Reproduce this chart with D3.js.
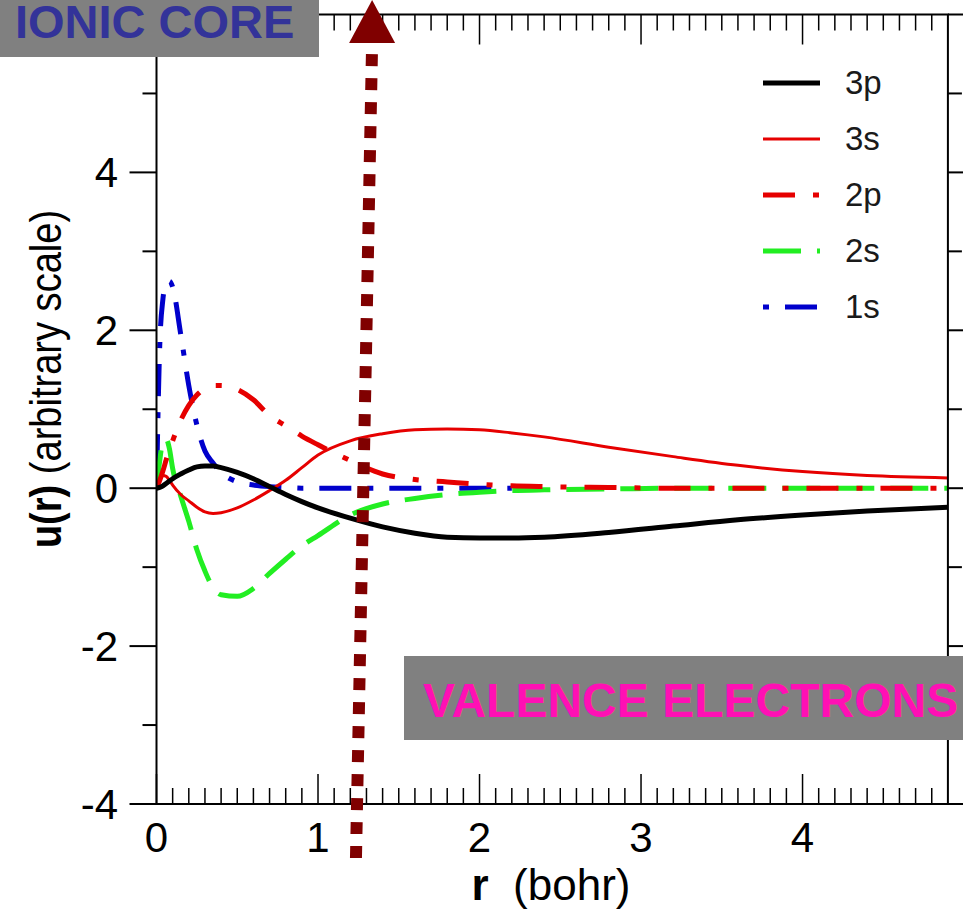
<!DOCTYPE html>
<html><head><meta charset="utf-8">
<script src="https://cdn.jsdelivr.net/npm/d3@7"></script>
<style>
html,body{margin:0;padding:0;background:#fff;}
svg{display:block;font-family:"Liberation Sans",Arial,Helvetica,sans-serif;}
</style></head>
<body>
<svg id="chart" width="963" height="909"></svg>
<script>
// ---- data ----
const rGrid = [0,0.02,0.04,0.06,0.08,0.1,0.15,0.2,0.25,0.3,0.35,0.4,0.5,0.6,0.7,0.8,0.9,1.0,1.2,1.4,1.6,1.8,2.0,2.2,2.4,2.8,3.2,3.6,4.0,4.4,4.9];
const u3p = [0,0.01,0.03,0.06,0.09,0.12,0.18,0.23,0.27,0.28,0.28,0.26,0.2,0.12,0.02,-0.08,-0.17,-0.25,-0.38,-0.49,-0.57,-0.62,-0.63,-0.63,-0.62,-0.56,-0.48,-0.4,-0.34,-0.29,-0.24];
const u3s = [0,0.1,0.16,0.15,0.1,0.04,-0.08,-0.16,-0.24,-0.3,-0.32,-0.31,-0.25,-0.15,-0.03,0.1,0.26,0.42,0.6,0.69,0.74,0.75,0.74,0.7,0.65,0.52,0.4,0.29,0.21,0.16,0.13];
const u2p = [0,0.1,0.22,0.36,0.48,0.6,0.86,1.05,1.18,1.26,1.3,1.3,1.25,1.12,0.92,0.79,0.66,0.55,0.35,0.18,0.11,0.08,0.05,0.03,0.02,0.01,0,0,0,0,0];
const u2s = [0,0.35,0.6,0.62,0.5,0.25,-0.1,-0.42,-0.78,-1.05,-1.26,-1.35,-1.37,-1.27,-1.08,-0.9,-0.73,-0.6,-0.34,-0.2,-0.13,-0.08,-0.05,-0.03,-0.02,-0.01,0,0,0,0,0];
const u1s = [0,1.8,2.4,2.6,2.62,2.55,1.95,1.3,0.8,0.47,0.32,0.2,0.08,0.04,0.02,0.01,0,0,0,0,0,0,0,0,null,null,null,null,null,null,null];
const seriesNames = ["3p","3s","2p","2s","1s"];
const xTicks = [0,1,2,3,4];
const yTicks = [-4,-2,0,2,4];

// ---- layout ----
const svg = d3.select("#chart");
const x = d3.scaleLinear().domain([0,4.9]).range([156.5,947.9]);
const y = d3.scaleLinear().domain([-4,6]).range([804,14.5]);
const X0 = x.range()[0], X1 = x.range()[1], Y0 = y.range()[0], Y1 = y.range()[1];

const styles = {
  "3p": {color:"#000000", width:5, dash:null},
  "3s": {color:"#e60000", width:3, dash:null},
  "2p": {color:"#e60000", width:5, dash:"32,18,6,18"},
  "2s": {color:"#22ee22", width:5, dash:"38,16"},
  "1s": {color:"#0000cc", width:5, dash:"6,16,32,16"}
};
const values = {"3p":u3p,"3s":u3s,"2p":u2p,"2s":u2s,"1s":u1s};

svg.append("defs").append("clipPath").attr("id","clip")
  .append("rect").attr("x",X0).attr("y",Y1).attr("width",X1-X0).attr("height",Y0-Y1);

// curves (draw in reverse so 3p on top)
const line = d3.line().defined(d=>d[1]!==null).x(d=>x(d[0])).y(d=>y(d[1])).curve(d3.curveMonotoneX);
const g = svg.append("g").attr("clip-path","url(#clip)");
["1s","2s","2p","3s","3p"].forEach(n=>{
  const pts = rGrid.map((r,i)=>[r,values[n][i]]);
  const st = styles[n];
  g.append("path").attr("d",line(pts)).attr("fill","none")
    .attr("stroke",st.color).attr("stroke-width",st.width)
    .attr("stroke-dasharray",st.dash).attr("stroke-linejoin","round");
});

// frame
const frame = svg.append("g").attr("stroke","#000").attr("stroke-width",2).attr("fill","none");
frame.append("rect").attr("x",X0).attr("y",Y1).attr("width",X1-X0).attr("height",Y0-Y1);

// x ticks (bottom: up, top: down)
const xMinor = d3.range(0,49).map(i=>i/10);
xMinor.forEach(v=>{
  const major = Math.abs(v-Math.round(v))<1e-9;
  const len = major?30:16;
  frame.append("line").attr("x1",x(v)).attr("x2",x(v)).attr("y1",Y0).attr("y2",Y0-len).attr("stroke-width",1.5);
  frame.append("line").attr("x1",x(v)).attr("x2",x(v)).attr("y1",Y1).attr("y2",Y1+len).attr("stroke-width",1.5);
});
// y ticks (outward on left and right)
d3.range(-4,7).forEach(v=>{
  const major = v%2===0;
  const len = major?27:14;
  frame.append("line").attr("x1",X0).attr("x2",X0-len).attr("y1",y(v)).attr("y2",y(v));
  frame.append("line").attr("x1",X1).attr("x2",X1+len).attr("y1",y(v)).attr("y2",y(v));
});

// tick labels
svg.append("g").selectAll("text").data(xTicks).join("text")
  .attr("x",d=>x(d)).attr("y",852).attr("text-anchor","middle")
  .attr("font-size",42).attr("fill","#000").text(d=>d);
svg.append("g").selectAll("text").data(yTicks).join("text")
  .attr("x",118).attr("y",d=>y(d)+15).attr("text-anchor","end")
  .attr("font-size",42).attr("fill","#000").text(d=>d);

// axis titles
const xt = svg.append("text").attr("x",551).attr("y",900).attr("text-anchor","middle").attr("font-size",44).attr("fill","#000");
xt.append("tspan").attr("font-weight","bold").text("r");
xt.append("tspan").text("\u00a0 (bohr)");
const yt = svg.append("text").attr("transform","translate(61,379) rotate(-90) scale(0.865,1)").attr("text-anchor","middle").attr("font-size",44).attr("fill","#000");
yt.append("tspan").attr("font-weight","bold").text("u(r)");
yt.append("tspan").text(" (arbitrary scale)");

// legend
const leg = svg.append("g");
seriesNames.forEach((n,i)=>{
  const yy = 83 + i*56;
  const st = styles[n];
  leg.append("line").attr("x1",763).attr("x2",820).attr("y1",yy).attr("y2",yy)
    .attr("stroke",st.color).attr("stroke-width",st.width).attr("stroke-dasharray",st.dash);
  leg.append("text").attr("x",845).attr("y",yy+11).attr("font-size",33).attr("fill","#1a1a1a").text(n);
});

// annotations
svg.append("rect").attr("x",0).attr("y",0).attr("width",319).attr("height",57).attr("fill","#808080");
svg.append("text").attr("x",15).attr("y",38).attr("font-size",47).attr("font-weight","bold").attr("fill","#333399").text("IONIC CORE");
svg.append("rect").attr("x",404).attr("y",656).attr("width",600).attr("height",84).attr("fill","#808080");
svg.append("text").attr("x",423).attr("y",717).attr("font-size",48).attr("font-weight","bold").attr("fill","#ff10b4").text("VALENCE ELECTRONS");

// arrow (dotted shaft + head)
const arrowColor = "#800000";
svg.append("line").attr("x1",x(1.235)).attr("y1",858).attr("x2",x(1.335)).attr("y2",44)
  .attr("stroke",arrowColor).attr("stroke-width",12).attr("stroke-dasharray","12,12");
svg.append("path").attr("d",`M${x(1.335)-23},43 L${x(1.335)+23},43 L${x(1.335)},0 Z`).attr("fill",arrowColor);
</script>
</body></html>
